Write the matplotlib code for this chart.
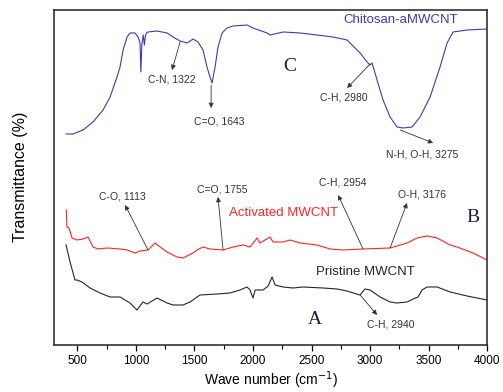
import numpy as np
import matplotlib
matplotlib.use('Agg')
import matplotlib.pyplot as plt
from matplotlib.ticker import MultipleLocator

plt.rcParams['font.family'] = ['Liberation Sans', 'DejaVu Sans']

# FTIR spectra (wavenumber in cm-1, transmittance in arbitrary offset units)
chitosan_wn = [403, 462, 548, 633, 719, 779, 838, 864, 890, 924, 949, 992, 1018, 1035,
               1042, 1050, 1062, 1072, 1080, 1090, 1103, 1180, 1266, 1317, 1377, 1437,
               1488, 1530, 1573, 1607, 1630, 1650, 1676, 1701, 1736, 1778, 1830, 1949,
               2000, 2120, 2146, 2257, 2402, 2547, 2684, 2804, 2829, 2915, 2975, 3000,
               3017, 3060, 3111, 3171, 3231, 3282, 3359, 3427, 3513, 3598, 3658, 3709,
               3829, 4000]
chitosan_t = [211, 211, 215, 223, 235, 248, 268, 278, 295, 308, 312, 312, 308, 302,
              273, 300, 310, 300, 309, 312, 313, 314, 312, 308, 304, 302,
              306, 303, 295, 278, 269, 262, 278, 298, 312, 317, 319, 320,
              317, 312, 310, 313, 312, 310, 308, 305, 302, 292, 283, 280,
              282, 265, 245, 228, 218, 217, 218, 228, 248, 278, 302, 313,
              315, 316]

activated_wn = [405, 410, 428, 454, 497, 548, 591, 633, 676, 753, 864, 924, 992, 1035,
                1103, 1163, 1206, 1266, 1351, 1402, 1488, 1522, 1573, 1633, 1744, 1830,
                1915, 1975, 2035, 2060, 2146, 2171, 2257, 2317, 2402, 2547, 2658, 2770,
                2940, 3171, 3316, 3402, 3487, 3573, 3684, 3744, 3880, 4000]
activated_t = [135, 118, 117, 107, 105, 106, 108, 98, 96, 97, 96, 95, 92, 94,
               95, 102, 98, 93, 88, 87, 92, 95, 98, 96, 95, 98,
               100, 98, 107, 102, 108, 103, 103, 105, 102, 100, 96, 95,
               96, 97, 102, 107, 109, 107, 100, 98, 92, 85]

pristine_wn = [403, 437, 479, 497, 539, 608, 693, 779, 864, 949, 1009, 1060, 1095, 1180,
               1266, 1317, 1402, 1462, 1522, 1548, 1693, 1804, 1889, 1949, 1975, 2000,
               2018, 2086, 2129, 2163, 2189, 2257, 2342, 2428, 2599, 2718, 2804, 2829,
               2915, 2957, 3000, 3086, 3171, 3231, 3316, 3368, 3410, 3444, 3487, 3573,
               3684, 3829, 4000]
pristine_t = [100, 83, 65, 65, 63, 57, 52, 48, 48, 42, 35, 43, 41, 47,
              42, 40, 40, 43, 48, 50, 51, 52, 55, 58, 55, 47,
              55, 55, 59, 68, 60, 58, 57, 58, 57, 56, 54, 53,
              50, 56, 55, 48, 43, 42, 43, 46, 48, 55, 58, 58,
              53, 49, 45]

# band assignments: (text, curve point, arrow head, text position)
bands = [
    ('C-N, 1322', (1377, 303), (1308, 275), (1308, 265)),
    ('C=O, 1643', (1642, 260), (1642, 237), (1710, 223)),
    ('C-H, 2980', (3000, 281), (2804, 257), (2778, 247)),
    ('N-H, O-H, 3275', (3257, 215), (3539, 202), (3445, 190)),
    ('C-O, 1113', (1103, 95), (907, 140), (881, 148)),
    ('C=O, 1755', (1744, 95), (1701, 148), (1736, 155)),
    ('C-H, 2954', (2940, 96), (2727, 150), (2770, 162)),
    ('O-H, 3176', (3171, 97), (3316, 142), (3445, 150)),
    ('C-H, 2940', (2915, 50), (3060, 30), (3180, 20)),
]

fig = plt.figure(figsize=(5.03, 3.92), dpi=100)
ax = fig.add_axes([0.1074, 0.1199, 0.861, 0.8546])

ax.plot(chitosan_wn, chitosan_t, color='#3c3cb4', lw=0.8)
ax.plot(activated_wn, activated_t, color='#ff2424', lw=0.8)
ax.plot(pristine_wn, pristine_t, color='#262626', lw=0.8)

for label, start, head, pos in bands:
    ax.annotate('', xy=head, xytext=start,
                arrowprops=dict(arrowstyle='-|>', color='#333333', lw=0.6,
                                mutation_scale=7, shrinkA=0, shrinkB=0))
    ax.text(pos[0], pos[1], label, fontsize=7.5, color='#333333',
            ha='center', va='center')

ax.text(3265, 325, 'Chitosan-aMWCNT', color='#3c3cb4', fontsize=9.5, ha='center', va='center')
ax.text(2257, 132, 'Activated MWCNT', color='#ff2424', fontsize=9.5, ha='center', va='center')
ax.text(2957, 73, 'Pristine MWCNT', color='#262626', fontsize=9.5, ha='center', va='center')

for letter, x, y in [('C', 2317, 278), ('B', 3880, 127), ('A', 2530, 25)]:
    ax.text(x, y, letter, family='Liberation Serif', fontsize=14, color='#1c1c40',
            ha='center', va='center')

ax.set_xlim(300, 4000)
ax.set_ylim(0, 335)
ax.xaxis.set_major_locator(MultipleLocator(500))
ax.xaxis.set_minor_locator(MultipleLocator(250))
ax.tick_params(axis='x', which='major', direction='out', length=4, width=0.9, labelsize=8.5)
ax.tick_params(axis='x', which='minor', direction='out', length=3, width=0.8)
ax.set_yticks([])
for s in ax.spines.values():
    s.set_linewidth(1.1)
    s.set_color('#222222')

ax.set_xlabel('Wave number (cm$^{-1}$)', fontsize=10, labelpad=1.5)
fig.text(0.040, 1 - 177 / 392, 'Transmittance (%)', rotation=90, fontsize=11.5,
         ha='center', va='center')

fig.savefig('out.png', dpi=100)
